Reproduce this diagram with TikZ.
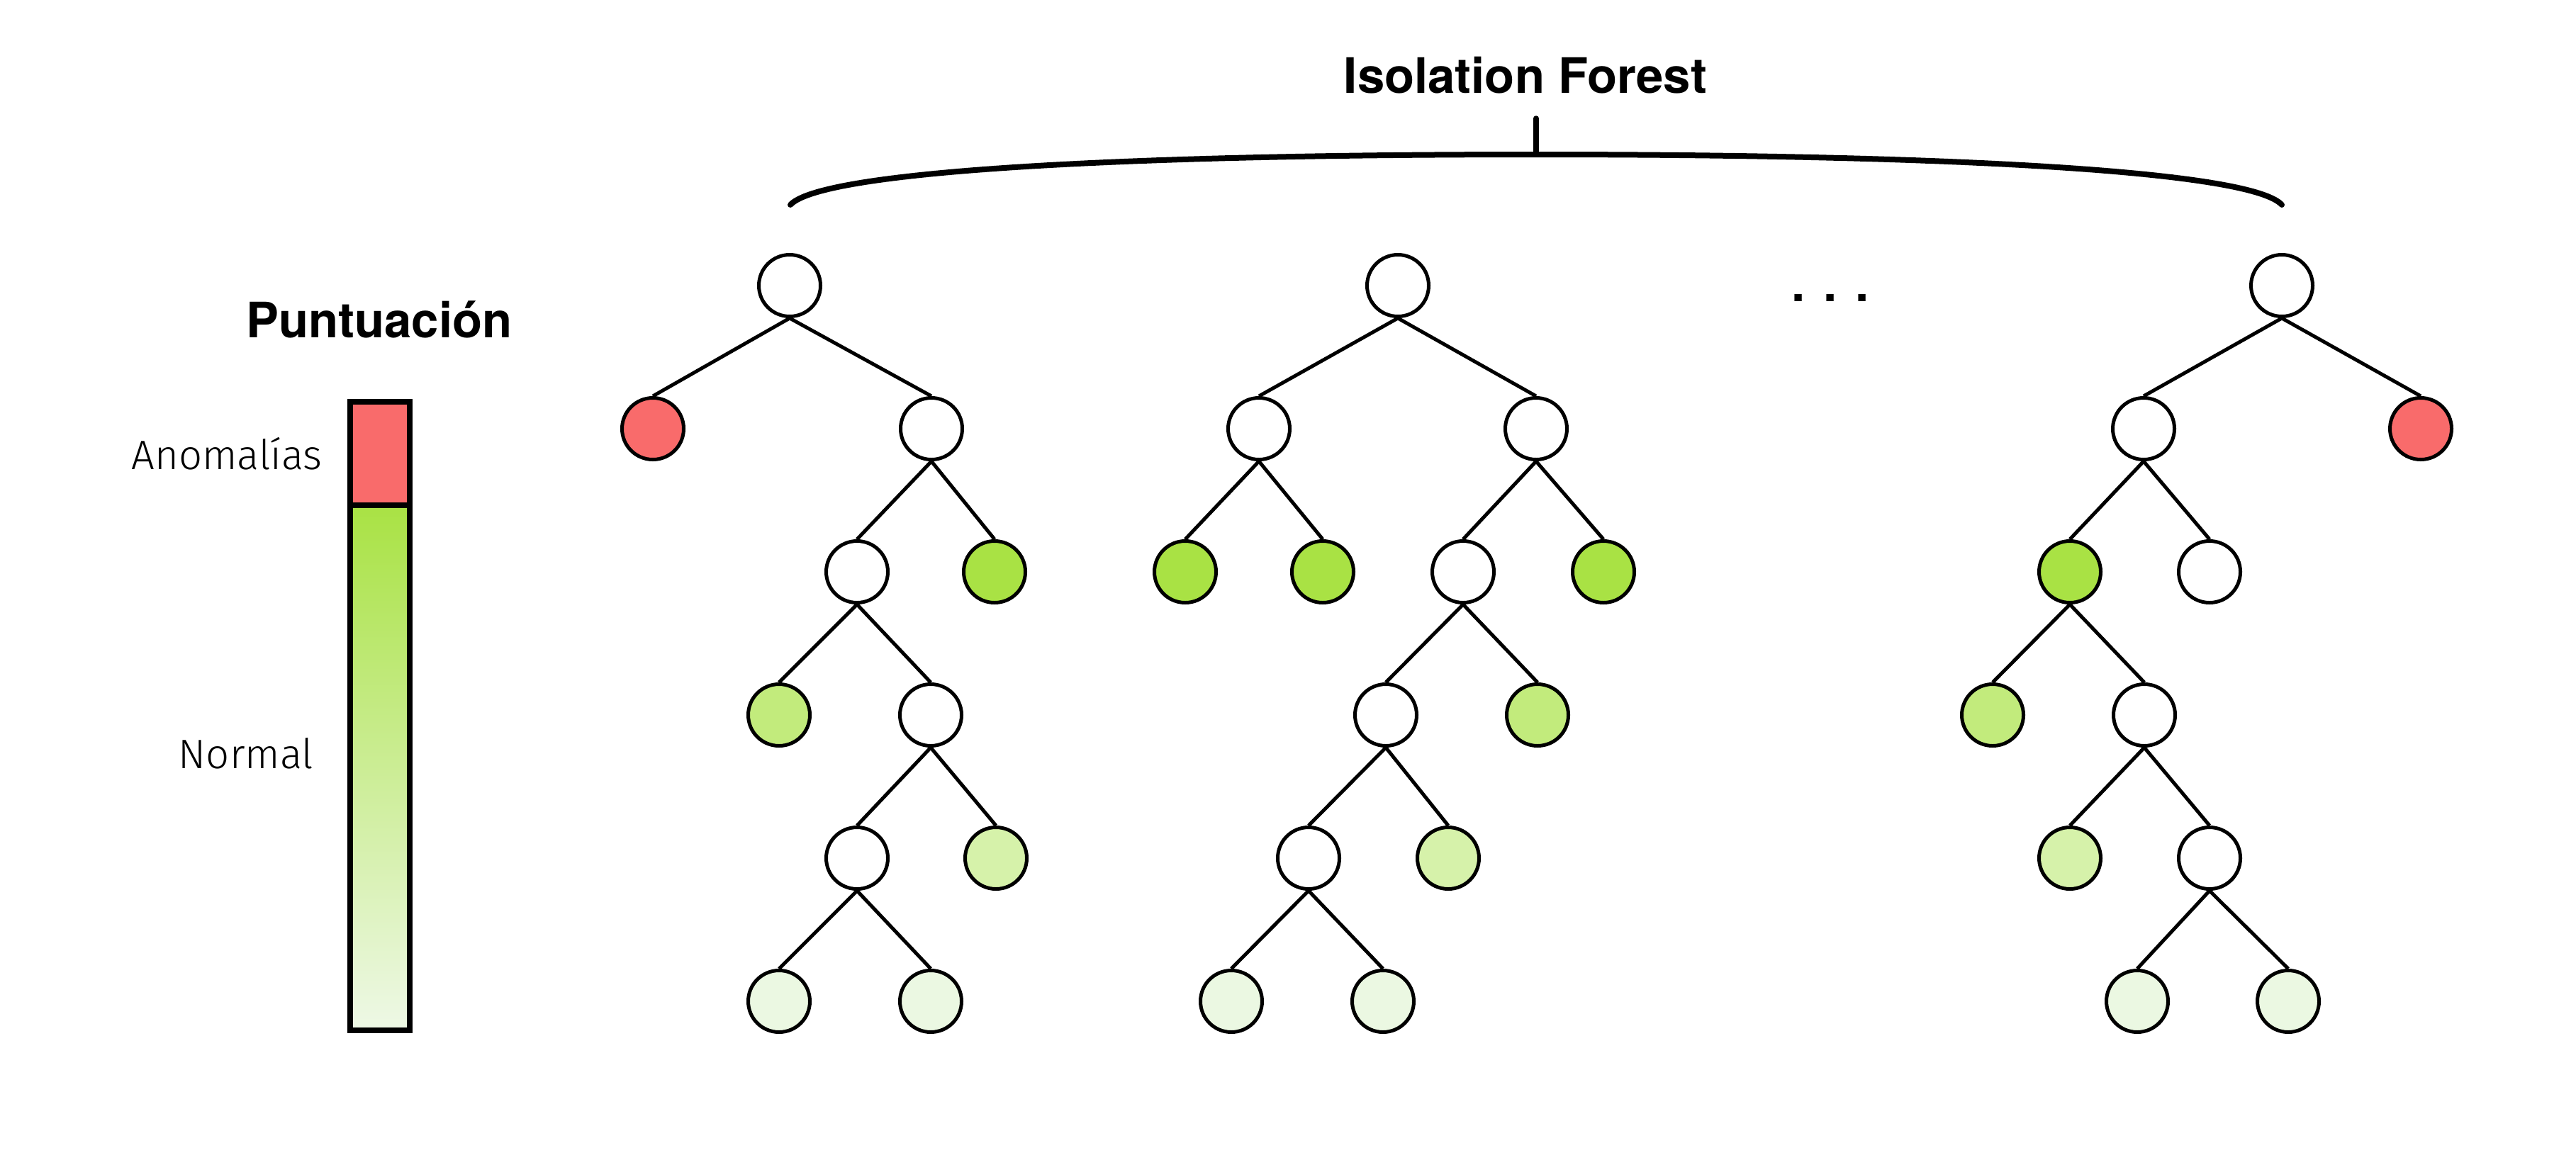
\documentclass[tikz,border=0pt]{standalone}
\usepackage{fontspec}
\setmainfont{TeX Gyre Heros}
\newfontfamily\lightfont{Fira Sans Light}
\usepackage{tikz}
\definecolor{anomred}{HTML}{F96B6B}
\definecolor{greenA}{HTML}{A9E244}
\definecolor{greenB}{HTML}{C2EB7C}
\definecolor{greenC}{HTML}{D6F2AA}
\definecolor{greenD}{HTML}{EBF8E2}
\definecolor{barlow}{HTML}{EEF8E6}
\tikzstyle{splitnode} = [draw, circle, fill=white, line width=0.05cm,
    minimum size=0.87cm, inner sep=0pt]
\tikzstyle{anomaly} = [splitnode, fill=anomred]
\tikzstyle{leafA} = [splitnode, fill=greenA]
\tikzstyle{leafB} = [splitnode, fill=greenB]
\tikzstyle{leafC} = [splitnode, fill=greenC]
\tikzstyle{leafD} = [splitnode, fill=greenD]
\tikzstyle{edge} = [line width=0.05cm]
\tikzstyle{heading} = [font=\fontsize{19.6}{23}\selectfont\bfseries, anchor=base, inner sep=0pt]
\tikzstyle{barlabel} = [font=\lightfont\fontsize{16.5}{19}\selectfont, anchor=base, inner sep=0pt]

\begin{document}
\begin{tikzpicture}
    \useasboundingbox (0,0) rectangle (36.34,-16.36);
    % score bar
    \node [heading] (score) at (5.35,-4.76) {Puntuación};
    \fill [anomred] (4.94,-5.67) rectangle (5.78,-7.13);
    \shade [top color=greenA, bottom color=barlow] (4.94,-7.13) rectangle (5.78,-14.54);
    \draw [line width=0.08cm] (4.94,-5.67) rectangle (5.78,-14.54);
    \draw [line width=0.08cm] (4.94,-7.13) -- (5.78,-7.13);
    \node [barlabel] (anom) at (3.20,-6.62) {Anomalías};
    \node [barlabel] (norm) at (3.47,-10.84) {Normal};

    % brace over the trees
    \node [heading] (forest) at (21.52,-1.31) {Isolation Forest};
    \coordinate (tick) at (21.67,-2.18);
    \draw [line width=0.08cm, line cap=round] (11.15,-2.89) .. controls (11.60,-2.40) and (16.00,-2.18) .. (tick)
        .. controls (27.34,-2.18) and (31.74,-2.40) .. (32.19,-2.89);
    \draw [line width=0.075cm, line cap=round] (tick) -- ++(0,0.51);
    \node [heading] (dots) at (25.82,-4.25) {. . .};

    % tree 1
    \node [splitnode] (a0) at (11.14,-4.03) {};
    \node [anomaly] (a1) at (9.21,-6.05) {};
    \node [splitnode] (a2) at (13.14,-6.05) {};
    \node [splitnode] (a3) at (12.09,-8.07) {};
    \node [leafA] (a4) at (14.03,-8.07) {};
    \node [leafB] (a5) at (10.99,-10.09) {};
    \node [splitnode] (a6) at (13.13,-10.09) {};
    \node [splitnode] (a7) at (12.09,-12.11) {};
    \node [leafC] (a8) at (14.05,-12.11) {};
    \node [leafD] (a9) at (10.99,-14.13) {};
    \node [leafD] (a10) at (13.13,-14.13) {};
    \draw [edge] (a0.south) -- (a1.north);
    \draw [edge] (a0.south) -- (a2.north);
    \draw [edge] (a2.south) -- (a3.north);
    \draw [edge] (a2.south) -- (a4.north);
    \draw [edge] (a3.south) -- (a5.north);
    \draw [edge] (a3.south) -- (a6.north);
    \draw [edge] (a6.south) -- (a7.north);
    \draw [edge] (a6.south) -- (a8.north);
    \draw [edge] (a7.south) -- (a9.north);
    \draw [edge] (a7.south) -- (a10.north);

    % tree 2
    \node [splitnode] (b0) at (19.72,-4.03) {};
    \node [splitnode] (b1) at (17.76,-6.05) {};
    \node [splitnode] (b2) at (21.67,-6.05) {};
    \node [leafA] (b3) at (16.72,-8.07) {};
    \node [leafA] (b4) at (18.66,-8.07) {};
    \node [splitnode] (b5) at (20.64,-8.07) {};
    \node [leafA] (b6) at (22.62,-8.07) {};
    \node [splitnode] (b7) at (19.55,-10.09) {};
    \node [leafB] (b8) at (21.69,-10.09) {};
    \node [splitnode] (b9) at (18.46,-12.11) {};
    \node [leafC] (b10) at (20.43,-12.11) {};
    \node [leafD] (b11) at (17.37,-14.13) {};
    \node [leafD] (b12) at (19.51,-14.13) {};
    \draw [edge] (b0.south) -- (b1.north);
    \draw [edge] (b0.south) -- (b2.north);
    \draw [edge] (b1.south) -- (b3.north);
    \draw [edge] (b1.south) -- (b4.north);
    \draw [edge] (b2.south) -- (b5.north);
    \draw [edge] (b2.south) -- (b6.north);
    \draw [edge] (b5.south) -- (b7.north);
    \draw [edge] (b5.south) -- (b8.north);
    \draw [edge] (b7.south) -- (b9.north);
    \draw [edge] (b7.south) -- (b10.north);
    \draw [edge] (b9.south) -- (b11.north);
    \draw [edge] (b9.south) -- (b12.north);

    % tree 3
    \node [splitnode] (c0) at (32.19,-4.03) {};
    \node [splitnode] (c1) at (30.24,-6.05) {};
    \node [anomaly] (c2) at (34.15,-6.05) {};
    \node [leafA] (c3) at (29.20,-8.07) {};
    \node [splitnode] (c4) at (31.17,-8.07) {};
    \node [leafB] (c5) at (28.11,-10.09) {};
    \node [splitnode] (c6) at (30.25,-10.09) {};
    \node [leafC] (c7) at (29.20,-12.11) {};
    \node [splitnode] (c8) at (31.17,-12.11) {};
    \node [leafD] (c9) at (30.15,-14.13) {};
    \node [leafD] (c10) at (32.28,-14.13) {};
    \draw [edge] (c0.south) -- (c1.north);
    \draw [edge] (c0.south) -- (c2.north);
    \draw [edge] (c1.south) -- (c3.north);
    \draw [edge] (c1.south) -- (c4.north);
    \draw [edge] (c3.south) -- (c5.north);
    \draw [edge] (c3.south) -- (c6.north);
    \draw [edge] (c6.south) -- (c7.north);
    \draw [edge] (c6.south) -- (c8.north);
    \draw [edge] (c8.south) -- (c9.north);
    \draw [edge] (c8.south) -- (c10.north);
\end{tikzpicture}
\end{document}
